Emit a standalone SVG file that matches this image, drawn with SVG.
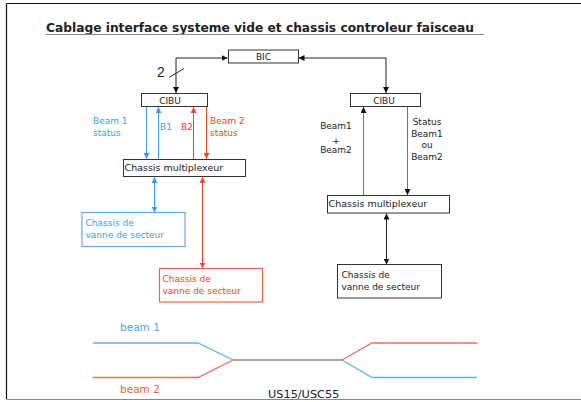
<svg xmlns="http://www.w3.org/2000/svg" width="581" height="402" viewBox="0 0 581 402">
  <style>
    text { font-family: "DejaVu Sans", "Liberation Sans", sans-serif; font-size: 9px; fill: #222; }
    .title { font-weight: bold; font-size: 12px; fill: #222; }
    .box { fill: #fff; stroke: #333; stroke-width: 1; }
    .boxb { fill: #fff; stroke: #62aef5; stroke-width: 1.2; }
    .boxr { fill: #fff; stroke: #f2603f; stroke-width: 1.2; }
    .blk { stroke: #222; stroke-width: 1; fill: none; }
    .gry { stroke: #777; stroke-width: 1; fill: none; }
    .blu { stroke: #3d9bf5; stroke-width: 1; fill: none; }
    .red { stroke: #f2452a; stroke-width: 1; fill: none; }
    .tb { fill: #3d9bf5; }
    .tr { fill: #f2452a; }
    .mux { font-size: 9.5px; }
    .beam { fill: none; stroke-width: 1.3; }
  </style>
  <defs>
    <marker id="ak" viewBox="0 0 6 6" refX="6" refY="3" markerWidth="6" markerHeight="6" markerUnits="userSpaceOnUse" orient="auto-start-reverse">
      <path d="M0,0 L6,3 L0,6 z" fill="#111"/>
    </marker>
    <marker id="ab" viewBox="0 0 6 6" refX="6" refY="3" markerWidth="6" markerHeight="6" markerUnits="userSpaceOnUse" orient="auto-start-reverse">
      <path d="M0,0 L6,3 L0,6 z" fill="#3d9bf5"/>
    </marker>
    <marker id="ar" viewBox="0 0 6 6" refX="6" refY="3" markerWidth="6" markerHeight="6" markerUnits="userSpaceOnUse" orient="auto-start-reverse">
      <path d="M0,0 L6,3 L0,6 z" fill="#f2452a"/>
    </marker>
  </defs>

  <rect width="581" height="402" fill="#fff"/>

  <!-- page frame -->
  <g id="frame">
    <line x1="6.5" y1="3.5" x2="581" y2="3.5" stroke="#111" stroke-width="1.2"/>
    <line x1="6.5" y1="3.5" x2="6.5" y2="399" stroke="#111" stroke-width="1.2"/>
  </g>

  <!-- heading -->
  <g id="heading">
    <text class="title" x="46" y="32" textLength="428" lengthAdjust="spacingAndGlyphs">Cablage interface systeme vide et chassis controleur faisceau</text>
    <line x1="46" y1="34.5" x2="484" y2="34.5" stroke="#888" stroke-width="1"/>
  </g>

  <!-- connectors -->
  <g id="connectors">
    <!-- BIC to both CIBU -->
    <polyline class="blk" points="227.5,58 176,58 176,93" marker-start="url(#ak)" marker-end="url(#ak)"/>
    <polyline class="blk" points="298.5,58 386,58 386,93" marker-start="url(#ak)" marker-end="url(#ak)"/>
    <line class="blk" x1="169" y1="77.5" x2="184" y2="68.5"/>
    <text x="157" y="76.5" style="font-size:14px; font-family:'Liberation Sans', Arial, sans-serif">2</text>

    <!-- left CIBU to multiplexer -->
    <line class="blu" x1="146.5" y1="107" x2="146.5" y2="159" marker-end="url(#ab)"/>
    <line class="blu" x1="158.5" y1="159" x2="158.5" y2="107" marker-end="url(#ab)"/>
    <line class="red" x1="193.5" y1="159" x2="193.5" y2="107" marker-end="url(#ar)"/>
    <line class="red" x1="206.5" y1="107" x2="206.5" y2="159" marker-end="url(#ar)"/>
    <text class="tb" x="93" y="124">Beam 1</text>
    <text class="tb" x="93" y="136">status</text>
    <text class="tb" x="160" y="130">B1</text>
    <text class="tr" x="181" y="130">B2</text>
    <text class="tr" x="210" y="124">Beam 2</text>
    <text class="tr" x="210" y="136">status</text>

    <!-- left multiplexer to sector valve chassis -->
    <line class="blu" x1="154.5" y1="177" x2="154.5" y2="212.5" marker-start="url(#ab)" marker-end="url(#ab)"/>
    <line class="red" x1="202.5" y1="177" x2="202.5" y2="268.5" marker-start="url(#ar)" marker-end="url(#ar)"/>

    <!-- right CIBU to multiplexer -->
    <line class="gry" x1="363.5" y1="195" x2="363.5" y2="107" marker-end="url(#ak)"/>
    <line class="gry" x1="407.5" y1="107" x2="407.5" y2="195" marker-end="url(#ak)"/>
    <g text-anchor="middle">
      <text x="336" y="129">Beam1</text>
      <text x="336" y="144">+</text>
      <text x="336" y="152.5">Beam2</text>
      <text x="427" y="125">Status</text>
      <text x="427" y="136.7">Beam1</text>
      <text x="427" y="148.4">ou</text>
      <text x="427" y="160">Beam2</text>
    </g>

    <!-- right multiplexer to sector valve chassis -->
    <line class="blk" x1="386.5" y1="213.5" x2="386.5" y2="264.5" marker-start="url(#ak)" marker-end="url(#ak)"/>
  </g>

  <!-- nodes -->
  <g id="bic">
    <rect class="box" x="228.5" y="50" width="70" height="13"/>
    <text x="263.5" y="60" text-anchor="middle">BIC</text>
  </g>
  <g id="cibu-left">
    <rect class="box" x="141.5" y="93.5" width="66" height="13"/>
    <text x="170" y="103.5" text-anchor="middle">CIBU</text>
  </g>
  <g id="cibu-right">
    <rect class="box" x="350.5" y="93.5" width="70" height="13"/>
    <text x="384" y="103.5" text-anchor="middle">CIBU</text>
  </g>
  <g id="mux-left">
    <rect class="box" x="123.5" y="159.5" width="122" height="17"/>
    <text class="mux" x="124.5" y="171">Chassis multiplexeur</text>
  </g>
  <g id="mux-right">
    <rect class="box" x="327.5" y="195.5" width="122" height="17.5"/>
    <text class="mux" x="328.5" y="207">Chassis multiplexeur</text>
  </g>
  <g id="vanne-beam1">
    <rect class="boxb" x="82" y="212.5" width="103" height="34"/>
    <text class="tb" x="85.5" y="226">Chassis de</text>
    <text class="tb" x="85.5" y="238">vanne de secteur</text>
  </g>
  <g id="vanne-beam2">
    <rect class="boxr" x="159.5" y="268.5" width="103" height="33.5"/>
    <text class="tr" x="162.5" y="281.5">Chassis de</text>
    <text class="tr" x="162.5" y="293.5">vanne de secteur</text>
  </g>
  <g id="vanne-right">
    <rect class="box" x="337.5" y="264.5" width="104" height="33.5"/>
    <text x="341.5" y="277.5">Chassis de</text>
    <text x="341.5" y="289.5">vanne de secteur</text>
  </g>

  <!-- beam crossing sketch -->
  <g id="beams">
    <polyline class="beam" stroke="#62b0f8" points="93,343 198,343 233,360"/>
    <polyline class="beam" stroke="#62b0f8" points="342,360 372,377.5 477,377.5"/>
    <polyline class="beam" stroke="#f76a55" points="93,377.5 198,377.5 233,360"/>
    <polyline class="beam" stroke="#f76a55" points="342,360 372,343 477,343"/>
    <line class="beam" stroke="#888" x1="233" y1="360" x2="342" y2="360"/>
    <text x="120" y="331" style="font-size:10.5px; fill:#4aa5f7">beam 1</text>
    <text x="120" y="393" style="font-size:10.5px; fill:#f55a45">beam 2</text>
    <text x="268" y="397.5" style="font-size:11.3px">US15/USC55</text>
  </g>

  <line x1="6.5" y1="399.5" x2="581" y2="399.5" stroke="#888" stroke-width="1.2"/>
</svg>
